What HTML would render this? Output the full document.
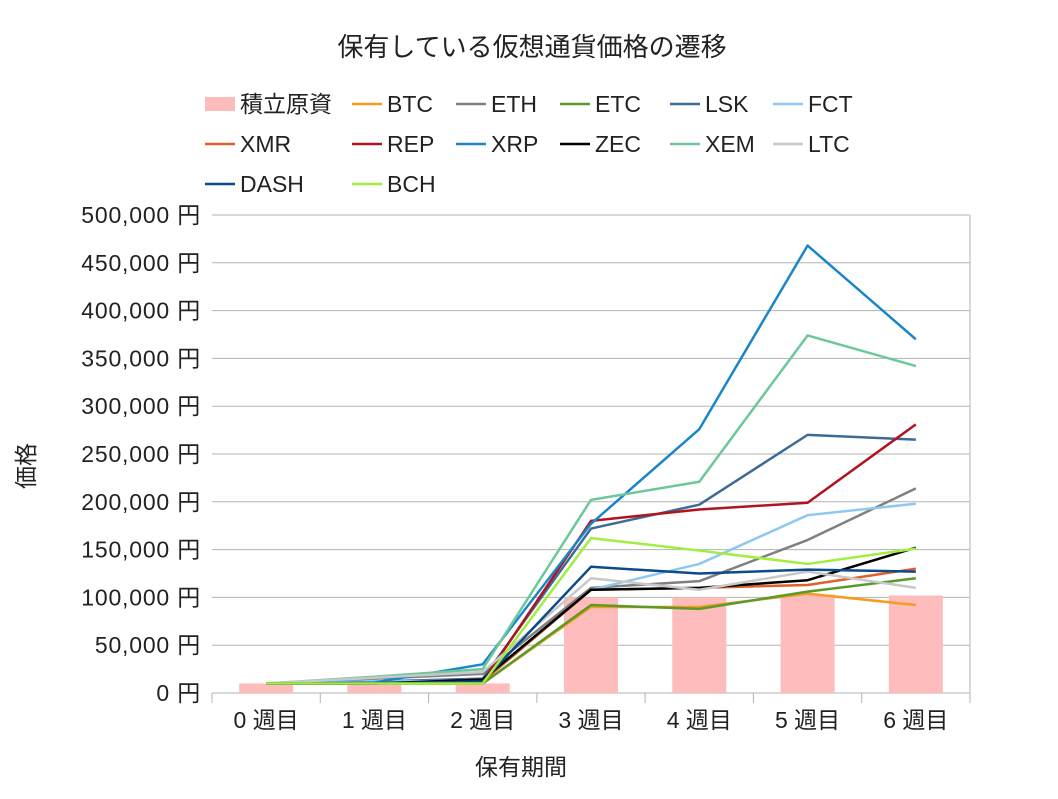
<!DOCTYPE html>
<html><head><meta charset="utf-8"><style>
body{margin:0;background:#fff;font-family:"Liberation Sans","Noto Sans CJK JP",sans-serif;}
svg text{font-family:"Liberation Sans","Noto Sans CJK JP",sans-serif;fill:#222;}
</style></head><body>
<svg id="c" width="1058" height="794" xmlns="http://www.w3.org/2000/svg">
<text x="532" y="56" font-size="26" text-anchor="middle">保有している仮想通貨価格の遷移</text>
<text x="521" y="775" font-size="23" text-anchor="middle">保有期間</text>
<text x="34" y="466" font-size="23" text-anchor="middle" transform="rotate(-90 34 466)">価格</text>
<g id="grid"></g><g id="bars"></g><g id="lines"></g><g id="legend"></g>
</svg>
<script>
const categories=["0 週目","1 週目","2 週目","3 週目","4 週目","5 週目","6 週目"];
const yTicks=[0,50000,100000,150000,200000,250000,300000,350000,400000,450000,500000];
const barValues=[10000,10000,10000,100000,100000,103000,102000];
const seriesNames=["BTC","ETH","ETC","LSK","FCT","XMR","REP","XRP","ZEC","XEM","LTC","DASH","BCH"];
const seriesColors=["#f39c1e","#808080","#5a9a2a","#3d6a96","#8ec8f0","#e0602a","#b0141e","#1a86c8","#000000","#6cc89a","#c8c8c8","#0d4a8a","#a0ee40"];
const BTC=[10000,10000,10000,90000,90000,104000,92000];
const ETH=[10000,15000,20000,110000,117000,160000,214000];
const ETC=[10000,10000,10000,92000,88000,106000,120000];
const LSK=[10000,12000,15000,172000,197000,270000,265000];
const FCT=[10000,12000,13000,108000,135000,186000,198000];
const XMR=[10000,10000,12000,108000,110000,113000,130000];
const REP=[10000,10000,12000,180000,192000,199000,281000];
const XRP=[10000,11000,30000,177000,276000,468000,370000];
const ZEC=[10000,10000,14000,108000,110000,118000,152000];
const XEM=[10000,17000,25000,202000,221000,374000,342000];
const LTC=[10000,16000,22000,120000,108000,127000,110000];
const DASH=[10000,10000,12000,132000,125000,129000,127000];
const BCH=[10000,10000,10000,162000,149000,135000,151000];
const seriesValues=[BTC,ETH,ETC,LSK,FCT,XMR,REP,XRP,ZEC,XEM,LTC,DASH,BCH];
const NS="http://www.w3.org/2000/svg";
const L=212,R=970,T=215,B=693;
const bw=(R-L)/categories.length;
const x=i=>L+bw*(i+0.5);
const y=v=>B-(v/500000)*(B-T);
function mk(t,a,p){const e=document.createElementNS(NS,t);for(const k in a)e.setAttribute(k,a[k]);p.appendChild(e);return e;}
const grid=document.getElementById('grid');
yTicks.forEach(v=>{
  const l=mk('line',{x1:L,x2:R,y1:y(v),y2:y(v),stroke:'#b3b3b3','stroke-width':1},grid);
  
  
  const t=mk('text',{x:201,y:y(v)+8,'font-size':23,'text-anchor':'end','letter-spacing':'0.8'},grid);
  t.textContent=v.toLocaleString('en-US')+' 円';
  
  
});
mk('line',{x1:R,x2:R,y1:T,y2:B,stroke:'#b3b3b3'},grid);
categories.forEach((c,i)=>{
  mk('line',{x1:L+bw*i,x2:L+bw*i,y1:B,y2:B+10,stroke:'#b3b3b3'},grid);
  const t=mk('text',{x:x(i),y:728,'font-size':23,'text-anchor':'middle'},grid);
  t.textContent=c;
  
  
});
mk('line',{x1:R,x2:R,y1:B,y2:B+10,stroke:'#b3b3b3'},grid);
const bars=document.getElementById('bars');
barValues.forEach((v,i)=>{
  const r=mk('rect',{x:x(i)-27,y:y(v),width:54,height:B-y(v),fill:'#ffbcbc'},bars);
  
  
});
const lines=document.getElementById('lines');
seriesValues.forEach((s,k)=>{
  const p=mk('polyline',{points:s.map((v,i)=>x(i)+','+y(v)).join(' '),fill:'none',stroke:seriesColors[k],'stroke-width':2.5,'stroke-linejoin':'round'},lines);
  
  
});
const lg=document.getElementById('legend');
const cols=[205,352,456,560,670,773];
const items=[{n:"積立原資",c:"#ffbcbc",bar:true}].concat(seriesNames.map((n,k)=>({n:n,c:seriesColors[k]})));
items.forEach((it,i)=>{
  const cx=cols[i%6],cy=104+40*Math.floor(i/6);
  const g=mk('g',{},lg);
  
  
  if(it.bar)mk('rect',{x:cx,y:cy-7,width:30,height:14,fill:it.c},g);
  else mk('line',{x1:cx,x2:cx+30,y1:cy,y2:cy,stroke:it.c,'stroke-width':2.5},g);
  const t=mk('text',{x:cx+35,y:cy+8,'font-size':23},g);
  t.textContent=it.n;
});
</script>
</body></html>
